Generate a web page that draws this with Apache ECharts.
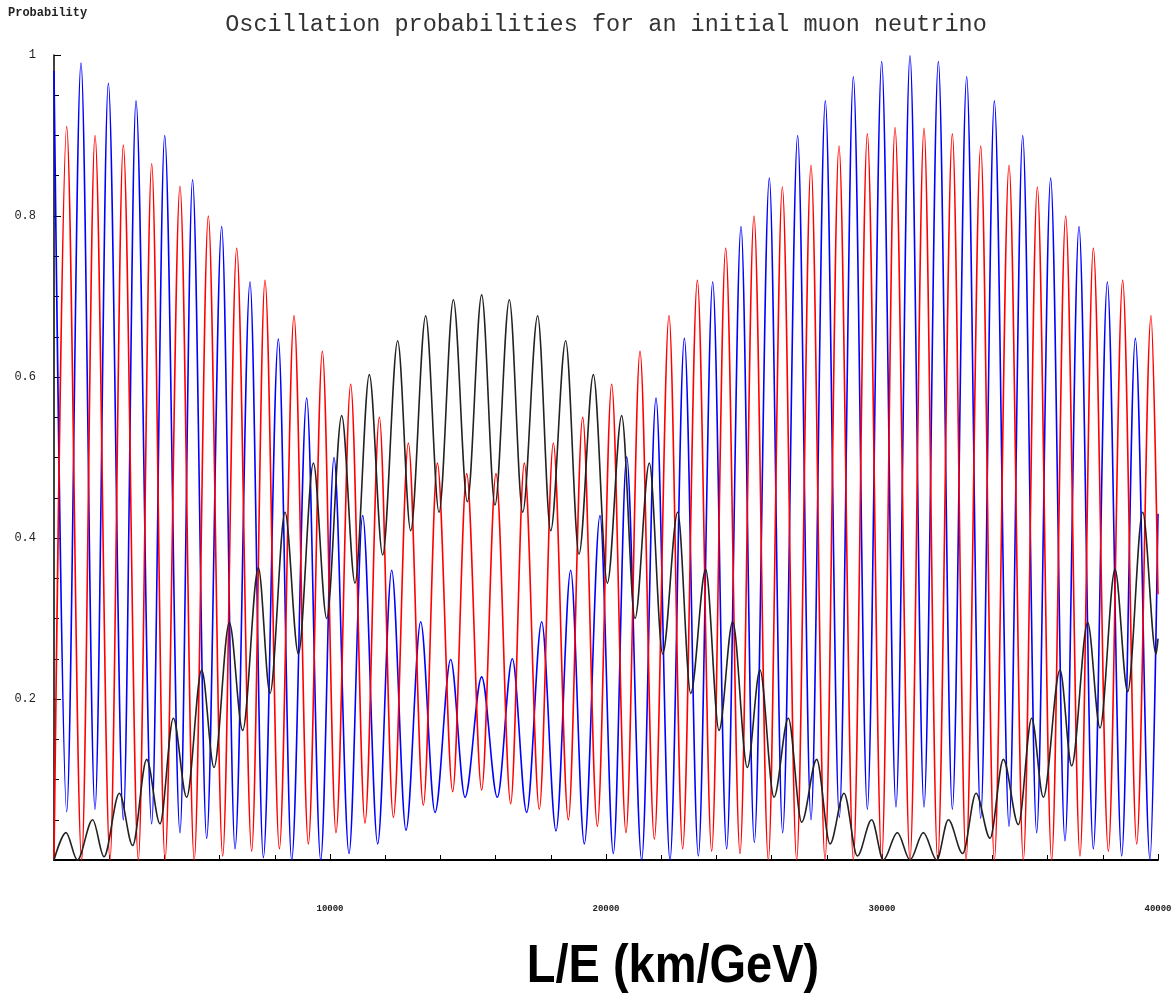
<!DOCTYPE html>
<html>
<head>
<meta charset="utf-8">
<script src="https://cdn.jsdelivr.net/npm/echarts@6/dist/echarts.min.js"></script>
<style>
html,body{margin:0;padding:0;background:#fff;}
#chart{width:1176px;height:993px;}
</style>
</head>
<body>
<div id="chart"></div>
<script>
// ---- DATA (successive maxima / minima) ----
const titleText = 'Oscillation probabilities for an initial muon neutrino';
const yAxisName = 'Probability';
const xAxisName = 'L/E (km/GeV)';

// blue curve: [L/E, probability]
const blueCurve = [
  [0,0.98],[459,0.06],[978,0.99],[1486,0.063],[1969,0.965],[2512,0.05],[2971,0.943],[3539,0.045],
  [4010,0.90],[4565,0.034],[5020,0.845],[5532,0.027],[6076,0.787],[6559,0.014],[7102,0.718],[7586,0.003],
  [8129,0.647],[8612,0],[9156,0.574],[9663,0],[10145,0.50],[10689,0.008],[11184,0.428],[11727,0.02],
  [12235,0.36],[12754,0.037],[13286,0.296],[13805,0.059],[14373,0.249],[14892,0.078],[15495,0.2275],[16062,0.078],
  [16606,0.25],[17126,0.059],[17669,0.296],[18189,0.036],[18720,0.36],[19215,0.02],[19783,0.428],[20266,0.008],
  [20749,0.501],[21293,0],[21812,0.574],[22319,0],[22839,0.648],[23346,0.005],[23866,0.718],[24372,0.014],
  [24892,0.787],[25374,0.022],[25918,0.847],[26401,0.034],[26944,0.90],[27428,0.05],[27947,0.943],[28454,0.053],
  [28962,0.973],[29469,0.063],[29989,0.992],[30507,0.066],[31015,0.999],[31522,0.066],[32042,0.992],[32549,0.063],
  [33068,0.973],[33576,0.052],[34071,0.943],[34603,0.042],[35098,0.90],[35604,0.034],[36111,0.847],[36630,0.024],
  [37138,0.787],[37657,0.014],[38165,0.718],[38684,0.005],[39179,0.648],[39711,0],[40000,0.43]
];

// red curve
const redCurve = [
  [0,0],[458,0.911],[1002,0],[1486,0.90],[2029,0],[2511,0.888],[3056,0],[3540,0.865],
  [4022,0],[4565,0.837],[5080,0],[5592,0.80],[6112,0.005],[6619,0.76],[7163,0.011],[7645,0.72],
  [8166,0.014],[8696,0.676],[9216,0.02],[9724,0.632],[10217,0.034],[10749,0.591],[11268,0.046],[11788,0.55],
  [12295,0.053],[12839,0.518],[13382,0.068],[13890,0.493],[14445,0.085],[14953,0.48],[15495,0.087],[16014,0.48],
  [16546,0.07],[17041,0.493],[17585,0.063],[18092,0.518],[18636,0.05],[19155,0.55],[19686,0.042],[20206,0.591],
  [20725,0.034],[21232,0.632],[21752,0.026],[22283,0.676],[22778,0.014],[23310,0.72],[23829,0.011],[24337,0.76],
  [24856,0.008],[25362,0.80],[25881,0],[26389,0.836],[26908,0],[27428,0.863],[27935,0],[28442,0.887],
  [28962,0],[29469,0.902],[29989,0],[30471,0.91],[31015,0],[31522,0.909],[32017,0],[32549,0.902],
  [33044,0],[33576,0.887],[34071,0],[34603,0.863],[35122,0],[35628,0.836],[36147,0],[36655,0.80],
  [37174,0.005],[37657,0.76],[38201,0.011],[38720,0.72],[39228,0.02],[39747,0.676],[40000,0.33]
];

// black curve
const blackCurve = [
  [0,0],[435,0.034],[845,0],[1401,0.05],[1812,0.004],[2367,0.083],[2850,0.018],[3357,0.125],
  [3841,0.045],[4324,0.176],[4807,0.078],[5351,0.236],[5798,0.115],[6353,0.295],[6837,0.161],[7404,0.363],
  [7827,0.207],[8371,0.432],[8854,0.256],[9398,0.493],[9881,0.30],[10423,0.552],[10906,0.344],[11425,0.603],
  [11908,0.379],[12452,0.645],[12923,0.409],[13467,0.676],[13950,0.432],[14470,0.696],[14977,0.445],[15495,0.702],
  [15978,0.441],[16497,0.696],[16981,0.432],[17524,0.676],[17995,0.409],[18539,0.645],[19022,0.38],[19542,0.603],
  [20049,0.344],[20568,0.552],[21051,0.30],[21570,0.493],[22054,0.256],[22597,0.432],[23069,0.207],[23612,0.361],
  [24095,0.161],[24590,0.296],[25120,0.115],[25579,0.236],[26087,0.078],[26606,0.176],[27089,0.047],[27633,0.125],
  [28116,0.02],[28624,0.083],[29107,0.005],[29626,0.05],[30049,0],[30556,0.034],[31015,0],[31498,0.034],
  [31981,0],[32404,0.05],[32923,0.008],[33407,0.083],[33914,0.027],[34397,0.125],[34941,0.044],[35424,0.176],
  [35845,0.078],[36449,0.236],[36872,0.117],[37452,0.295],[37899,0.164],[38442,0.361],[38901,0.209],[39445,0.432],
  [39928,0.256],[40000,0.275]
];

// ---- CHART ----
const chart = echarts.init(document.getElementById('chart'));
const mono = '"Liberation Mono", "DejaVu Sans Mono", monospace';

function lineSeries(name, data, color) {
  return {
    name: name, type: 'line', data: data, showSymbol: false, symbol: 'none',
    smooth: 0.33, smoothMonotone: 'x',
    lineStyle: { color: color, width: 1.6 },
    itemStyle: { color: color },
    emphasis: { disabled: true }, silent: true, clip: true
  };
}

chart.setOption({
  animation: false,
  backgroundColor: '#ffffff',
  grid: { left: 54, right: 18, top: 55, bottom: 133, containLabel: false },
  xAxis: {
    type: 'value', min: 0, max: 40000, interval: 10000,
    axisLine: { show: true, onZero: false, lineStyle: { color: '#000', width: 2 } },
    axisTick: { show: true, inside: true, length: 6, lineStyle: { color: '#000', width: 1 } },
    minorTick: { show: true, splitNumber: 5, length: 5, lineStyle: { color: '#000', width: 1 } },
    splitLine: { show: false },
    axisLabel: {
      margin: 44, color: '#222', fontFamily: mono, fontSize: 9, fontWeight: 'bold',
      formatter: v => (v === 0 ? '' : String(v))
    }
  },
  yAxis: {
    type: 'value', min: 0, max: 1, interval: 0.2,
    axisLine: { show: true, onZero: false, lineStyle: { color: '#000', width: 1.5 } },
    axisTick: { show: true, inside: true, length: 7, lineStyle: { color: '#000', width: 1 } },
    minorTick: { show: true, splitNumber: 4, length: 5, lineStyle: { color: '#000', width: 1 } },
    splitLine: { show: false },
    axisLabel: {
      margin: 18, color: '#222', fontFamily: mono, fontSize: 12,
      formatter: v => (v === 0 ? '' : (Math.abs(v - 1) < 1e-9 ? '1' : v.toFixed(1)))
    }
  },
  graphic: [
    { type: 'text', left: 8, top: 7, silent: true,
      style: { text: yAxisName, font: 'bold 12px ' + mono, fill: '#222' } },
    { type: 'text', x: 606, y: 25, silent: true,
      style: { text: titleText, font: '23.5px ' + mono, fill: '#333', textAlign: 'center', textVerticalAlign: 'middle' } },
    { type: 'text', x: 673, y: 967, scaleY: 1.15, silent: true,
      style: { text: xAxisName, font: 'bold 47px "Liberation Sans", Arial, sans-serif', fill: '#000', textAlign: 'center', textVerticalAlign: 'middle' } }
  ],
  series: [
    lineSeries('blue', blueCurve, '#0000ff'),
    lineSeries('red', redCurve, '#ff0000'),
    lineSeries('black', blackCurve, '#222222')
  ]
});
</script>
</body>
</html>
